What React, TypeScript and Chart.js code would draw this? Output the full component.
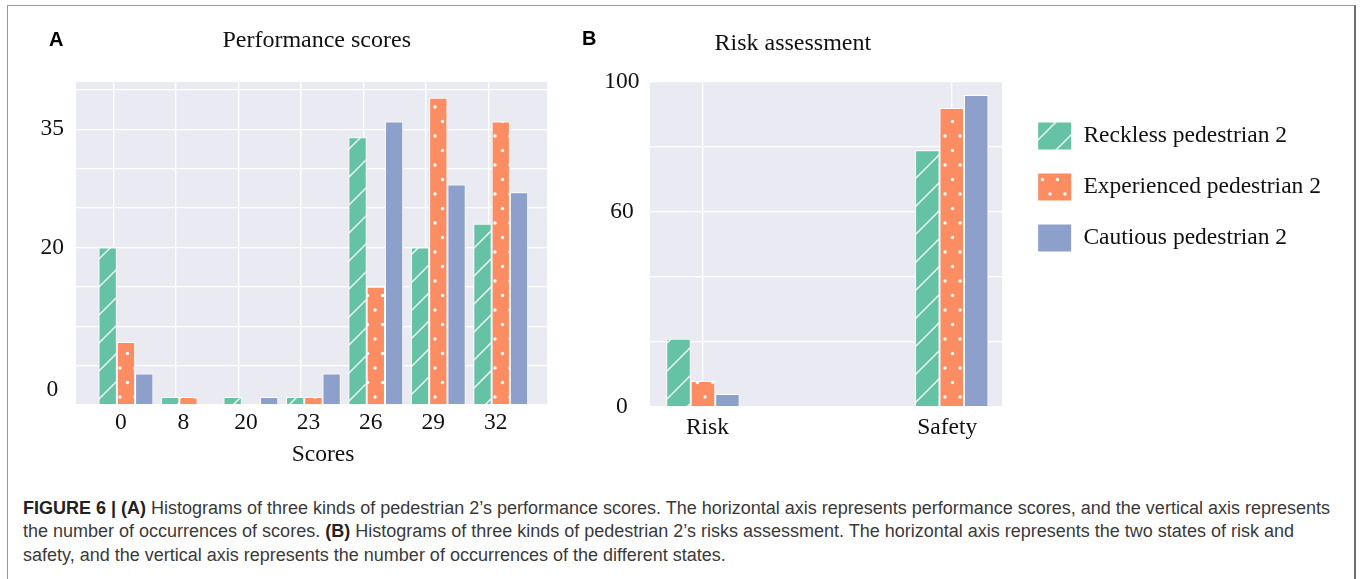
import React, { useEffect, useRef } from 'react';
import { Chart, registerables } from 'chart.js';

Chart.register(...registerables);

// ---------------- data ----------------
const seriesNames = ['Reckless pedestrian 2', 'Experienced pedestrian 2', 'Cautious pedestrian 2'];
const seriesColors = ['#66c2a5', '#fc8d62', '#8da0cb'];

const scoreLabels = ['0', '8', '20', '23', '26', '29', '32'];
const scoreReckless = [20, 1, 1, 1, 34, 20, 23];
const scoreExperienced = [8, 1, 0, 1, 15, 39, 36];
const scoreCautious = [4, 0, 1, 4, 36, 28, 27];

const riskLabels = ['Risk', 'Safety'];
const riskReckless = [21, 79];
const riskExperienced = [8, 92];
const riskCautious = [4, 96];

const scoreGridTicks = [0, 5, 10, 15, 20, 25, 30, 35, 40];
const scoreTickLabels = ['0', '20', '35'];
const scoreTickValues = [1.9, 20, 35];
const riskGridTicks = [0, 20, 40, 60, 80, 100];
const riskTickLabels = ['0', '60', '100'];

// ---------------- style ----------------
const SERIF = '"Liberation Serif", "Times New Roman", serif';
const FS = 23.5;
const TXT = '#111111';
const PLOT_BG = '#eaeaf2';
const GRID = '#ffffff';
const LEG_BOX_W = 34;
const LEG_BOX_H = 28;
const LEG_PAD = 23;

function makeHatch(color: string) {
  const s = 28;
  const c = document.createElement('canvas');
  c.width = s; c.height = s;
  const g = c.getContext('2d')!;
  g.fillStyle = color; g.fillRect(0, 0, s, s);
  g.strokeStyle = 'rgba(255,255,255,0.95)';
  g.lineWidth = 1.4;
  g.beginPath();
  g.moveTo(-3, s + 3); g.lineTo(s + 3, -3);
  g.moveTo(-3, 3); g.lineTo(3, -3);
  g.moveTo(s - 3, s + 3); g.lineTo(s + 3, s - 3);
  g.stroke();
  return g.createPattern(c, 'repeat')!;
}

function makeDots(color: string) {
  const w = 15, h = 29;
  const c = document.createElement('canvas');
  c.width = w; c.height = h;
  const g = c.getContext('2d')!;
  g.fillStyle = color; g.fillRect(0, 0, w, h);
  g.fillStyle = '#ffffff';
  const pts = [[0, 0], [w, 0], [0, h], [w, h], [w / 2, h / 2]];
  for (const [x, y] of pts) {
    g.beginPath(); g.arc(x, y, 1.7, 0, Math.PI * 2); g.fill();
  }
  return g.createPattern(c, 'repeat')!;
}

const plotBg = {
  id: 'plotBg',
  beforeDraw(chart: any) {
    const { ctx, chartArea: a } = chart;
    ctx.save();
    ctx.fillStyle = PLOT_BG;
    ctx.fillRect(a.left, a.top, a.right - a.left, a.bottom - a.top);
    ctx.restore();
  },
};

function buildDatasets(values: number[][], catPct: number) {
  const fills = [makeHatch(seriesColors[0]), makeDots(seriesColors[1]), seriesColors[2]];
  return values.map((vals, k) => ({
    label: seriesNames[k],
    data: vals.map((v, i) => ({ x: i, y: v })),
    backgroundColor: fills[k],
    borderColor: '#ffffff',
    borderWidth: 1,
    barPercentage: 1,
    categoryPercentage: catPct,
  }));
}

const tickFont = { family: SERIF, size: FS, lineHeight: 1.2 };

function configA(): any {
  return {
    type: 'bar',
    data: { datasets: buildDatasets([scoreReckless, scoreExperienced, scoreCautious], 0.877) },
    options: {
      animation: false,
      responsive: false,
      maintainAspectRatio: false,
      layout: { padding: { top: 62, right: 13, left: 0, bottom: 0 } },
      plugins: { legend: { display: false }, title: { display: false }, tooltip: { enabled: false } },
      scales: {
        x: {
          type: 'linear', position: 'bottom', min: -0.8, max: 6.74, offset: false,
          afterBuildTicks: (s: any) => { s.ticks = scoreLabels.map((_, i) => ({ value: i - 0.2 })); },
          ticks: { display: false },
          grid: { color: GRID, lineWidth: 1.3, drawTicks: false, offset: false },
          border: { display: false },
          afterFit: (s: any) => { s.height = 0; },
        },
        xL: {
          type: 'linear', position: 'bottom', min: -0.8, max: 6.74, offset: false,
          afterBuildTicks: (s: any) => { s.ticks = scoreLabels.map((_, i) => ({ value: i - 0.08 })); },
          ticks: {
            font: tickFont, color: TXT, padding: 4, autoSkip: false, maxRotation: 0,
            callback: (_v: any, i: number) => scoreLabels[i],
          },
          grid: { display: false, drawTicks: false, offset: false },
          border: { display: false },
          afterFit: (s: any) => { s.height = 65; },
        },
        y: {
          type: 'linear', position: 'left', min: 0, max: 41,
          afterBuildTicks: (s: any) => { s.ticks = scoreGridTicks.map((v) => ({ value: v })); },
          ticks: { display: false },
          grid: { color: GRID, lineWidth: 1.3, drawTicks: false },
          border: { display: false },
          afterFit: (s: any) => { s.width = 0; },
        },
        yL: {
          type: 'linear', position: 'left', min: 0, max: 41,
          afterBuildTicks: (s: any) => { s.ticks = scoreTickValues.map((v) => ({ value: v })); },
          ticks: {
            font: tickFont, color: TXT, padding: 12, crossAlign: 'center', autoSkip: false,
            callback: (_v: any, i: number) => scoreTickLabels[i],
          },
          grid: { display: false, drawTicks: false },
          border: { display: false },
          afterFit: (s: any) => { s.width = 46; },
        },
      },
    },
    plugins: [plotBg],
  };
}

function legendWidth(): number {
  const g = document.createElement('canvas').getContext('2d')!;
  g.font = `normal normal ${FS}px ${SERIF}`;
  const tw = Math.max(...seriesNames.map((n) => g.measureText(n).width));
  return LEG_PAD + LEG_BOX_W + FS / 2 + tw + 10;
}

const B_WIDTH = 775;
const B_AREA_RIGHT = 432;
const B_GAP = 12.7;

function configB(): any {
  const lw = legendWidth();
  const padRight = Math.max(0, B_WIDTH - (B_AREA_RIGHT + B_GAP) - lw);
  return {
    type: 'bar',
    data: { datasets: buildDatasets([riskReckless, riskExperienced, riskCautious], 0.295) },
    options: {
      animation: false,
      responsive: false,
      maintainAspectRatio: false,
      layout: { padding: { top: 62, right: padRight, left: 0, bottom: 0 } },
      plugins: {
        title: { display: false },
        tooltip: { enabled: false },
        legend: {
          display: true, position: 'right', align: 'start', fullSize: false, maxWidth: 500,
          title: { display: true, text: '', font: { size: 1, lineHeight: 1 }, padding: { top: 16, bottom: 0 } },
          labels: {
            boxWidth: LEG_BOX_W, boxHeight: LEG_BOX_H, padding: LEG_PAD,
            font: { family: SERIF, size: FS }, color: TXT,
          },
        },
      },
      scales: {
        x: {
          type: 'linear', position: 'bottom', min: -0.213, max: 1.202, offset: false,
          afterBuildTicks: (s: any) => { s.ticks = riskLabels.map((_, i) => ({ value: i })); },
          ticks: { display: false },
          grid: { color: GRID, lineWidth: 1.3, drawTicks: false, offset: false },
          border: { display: false },
          afterFit: (s: any) => { s.height = 0; },
        },
        xL: {
          type: 'linear', position: 'bottom', min: -0.213, max: 1.202, offset: false,
          afterBuildTicks: (s: any) => { s.ticks = riskLabels.map((_, i) => ({ value: i + (i === 0 ? 0.018 : -0.018) })); },
          ticks: {
            font: tickFont, color: TXT, padding: 7, autoSkip: false, maxRotation: 0,
            callback: (_v: any, i: number) => riskLabels[i],
          },
          grid: { display: false, drawTicks: false, offset: false },
          border: { display: false },
          afterFit: (s: any) => { s.height = 63; },
        },
        y: {
          type: 'linear', position: 'left', min: 0, max: 100,
          afterBuildTicks: (s: any) => { s.ticks = riskGridTicks.map((v) => ({ value: v })); },
          ticks: {
            font: tickFont, color: TXT, padding: 10.4, crossAlign: 'center', autoSkip: false,
            callback: (v: any) => (riskTickLabels.includes(String(v)) ? String(v) : ''),
          },
          grid: { color: GRID, lineWidth: 1.3, drawTicks: false },
          border: { display: false },
          afterFit: (s: any) => { s.width = 80; },
        },
        yR: {
          type: 'linear', position: 'right', display: true,
          ticks: { display: false },
          grid: { display: false, drawTicks: false },
          border: { display: false },
          afterFit: (s: any) => { s.width = B_GAP; },
        },
      },
    },
    plugins: [plotBg],
  };
}

const abs = (extra: React.CSSProperties): React.CSSProperties => ({ position: 'absolute', margin: 0, whiteSpace: 'nowrap', ...extra });

export default function App() {
  const refA = useRef<HTMLCanvasElement>(null);
  const refB = useRef<HTMLCanvasElement>(null);

  useEffect(() => {
    const a = new Chart(refA.current!, configA());
    const b = new Chart(refB.current!, configB());
    return () => { a.destroy(); b.destroy(); };
  }, []);

  const serifTitle: React.CSSProperties = { fontFamily: SERIF, fontSize: 24, lineHeight: '24px', color: TXT };
  const letter: React.CSSProperties = { fontFamily: '"Liberation Sans", Arial, sans-serif', fontWeight: 700, fontSize: 20, lineHeight: '20px', color: '#000' };

  return (
    <div style={{ position: 'absolute', left: 0, top: 0, width: 1360, height: 579, overflow: 'hidden', background: '#fff' }}>
      <div style={{ position: 'absolute', left: 7, top: 5, width: 1349, height: 620, boxSizing: 'border-box', borderLeft: '1px solid #9a9a9a', borderTop: '1px solid #9a9a9a', borderRight: '2px solid #6e6e6e' }} />

      <canvas ref={refA} width={530} height={450} style={{ position: 'absolute', left: 30, top: 20, width: 530, height: 450 }} />
      <canvas ref={refB} width={B_WIDTH} height={450} style={{ position: 'absolute', left: 570, top: 20, width: B_WIDTH, height: 450 }} />

      <div style={abs({ ...letter, left: 49, top: 29 })}>A</div>
      <div style={abs({ ...letter, left: 582, top: 28 })}>B</div>
      <div style={abs({ ...serifTitle, left: 316.7, top: 26.6, transform: 'translateX(-50%)' })}>Performance scores</div>
      <div style={abs({ ...serifTitle, left: 792.8, top: 29.9, transform: 'translateX(-50%)' })}>Risk assessment</div>
      <div style={abs({ fontFamily: SERIF, fontSize: FS, lineHeight: `${FS}px`, color: TXT, left: 323, top: 442, transform: 'translateX(-50%)' })}>Scores</div>

      <div style={abs({ left: 23, top: 496.5, fontFamily: '"Liberation Sans", Arial, sans-serif', fontSize: 18, lineHeight: '23.5px', color: '#3a3a3a' })}>
        <b style={{ color: '#222' }}>FIGURE 6 | (A)</b> Histograms of three kinds of pedestrian 2’s performance scores. The horizontal axis represents performance scores, and the vertical axis represents
        <br />
        the number of occurrences of scores. <b style={{ color: '#222' }}>(B)</b> Histograms of three kinds of pedestrian 2’s risks assessment. The horizontal axis represents the two states of risk and
        <br />
        safety, and the vertical axis represents the number of occurrences of the different states.
      </div>
    </div>
  );
}
